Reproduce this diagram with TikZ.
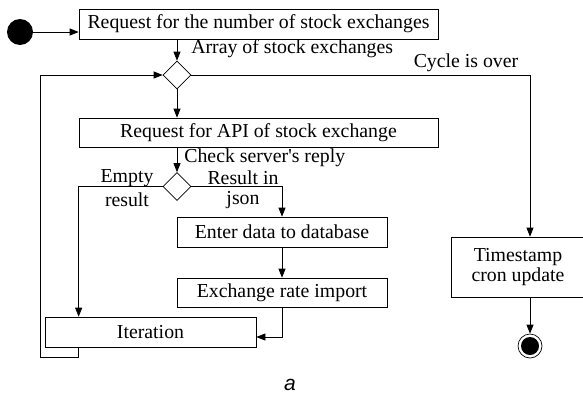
\documentclass[tikz,border=0pt]{standalone}
\usepackage{fontspec}
\setmainfont{Liberation Serif}
\setsansfont{Liberation Sans}
\usetikzlibrary{shapes.geometric,arrows.meta}

\tikzset{
  action/.style={rectangle,draw,inner sep=0pt},
  choice/.style={diamond,draw,inner sep=0pt,minimum width=28pt,minimum height=28pt},
  flow/.style={-{Triangle[length=9pt,width=7pt]}},
  lbl/.style={inner sep=0pt}
}

\begin{document}
\begin{tikzpicture}[x=1pt,y=-1pt,line width=0.7pt,
    every node/.style={font=\fontsize{19.8}{21}\selectfont}]

        \useasboundingbox (0,0) rectangle (583,397);

        \begin{scope}[every node/.style={action,font=\fontsize{19.8}{21}\selectfont}]
          \node[minimum width=359pt,minimum height=30pt] (count)  at (258.5,24)  {Request for the number of stock exchanges};
          \node[minimum width=359pt,minimum height=29pt] (api)    at (258.5,132.5) {Request for API of stock exchange};
          \node[minimum width=210pt,minimum height=30pt] (enter)  at (282,232)   {Enter data to database};
          \node[minimum width=210pt,minimum height=29pt] (rate)   at (282,292.5) {Exchange rate import};
          \node[minimum width=211pt,minimum height=30pt] (iter)   at (150.5,332) {Iteration};
          \node[minimum width=134pt,minimum height=60pt,align=center] (stamp) at (518,267) {Timestamp\\[-1pt]cron update};
        \end{scope}

        \begin{scope}[every node/.style={choice}]
          \node (loopq)  at (177,75)    {};
          \node (replyq) at (177,186.5) {};
        \end{scope}

        \node[circle,fill=black,minimum size=26pt,inner sep=0pt] (start) at (20,32) {};
        \node[circle,draw,minimum size=24pt,inner sep=0pt,
              path picture={\fill (path picture bounding box.center) circle (9pt);}] (stop) at (530,346) {};
        \coordinate (back) at (40,357);

        \begin{scope}[every node/.style={lbl,font=\fontsize{19.8}{21}\selectfont}]
          \node[anchor=west] (arr)   at (191,49)  {Array of stock exchanges};
          \node (over)               at (466,63)  {Cycle is over};
          \node[anchor=west] (check) at (184,158) {Check server\textquotesingle s reply};
          \node (empty1)             at (127,178) {Empty};
          \node (empty2)             at (127,200) {result};
          \node (json1)              at (243,178) {Result in};
          \node (json2)              at (243,200) {json};
        \end{scope}

        \node[font=\fontsize{21}{23}\selectfont\sffamily\itshape] (cap) at (290,385) {a};

        \draw[flow] (start) -- (start -| count.west);
        \draw[flow] (count.south -| loopq) -- (loopq.north);
        \draw[flow] (loopq.south) -- (loopq.south |- api.north);
        \draw[flow] (loopq.east) -| (stop |- stamp.north);
        \draw[flow] (api.south -| replyq) -- (replyq.north);
        \draw[flow] (replyq.west) -| (api.west |- iter.north);
        \draw[flow] (replyq.east) -| (enter.north);
        \draw[flow] (enter.south) -- (rate.north);
        \draw[flow] (rate.south) |- ([yshift=-5pt]iter.east);
        \draw[flow] (iter.south -| api.west) |- (back) |- (loopq.west);
        \draw[flow] (stop |- stamp.south) -- (stop.north);

      \end{tikzpicture}
\end{document}
